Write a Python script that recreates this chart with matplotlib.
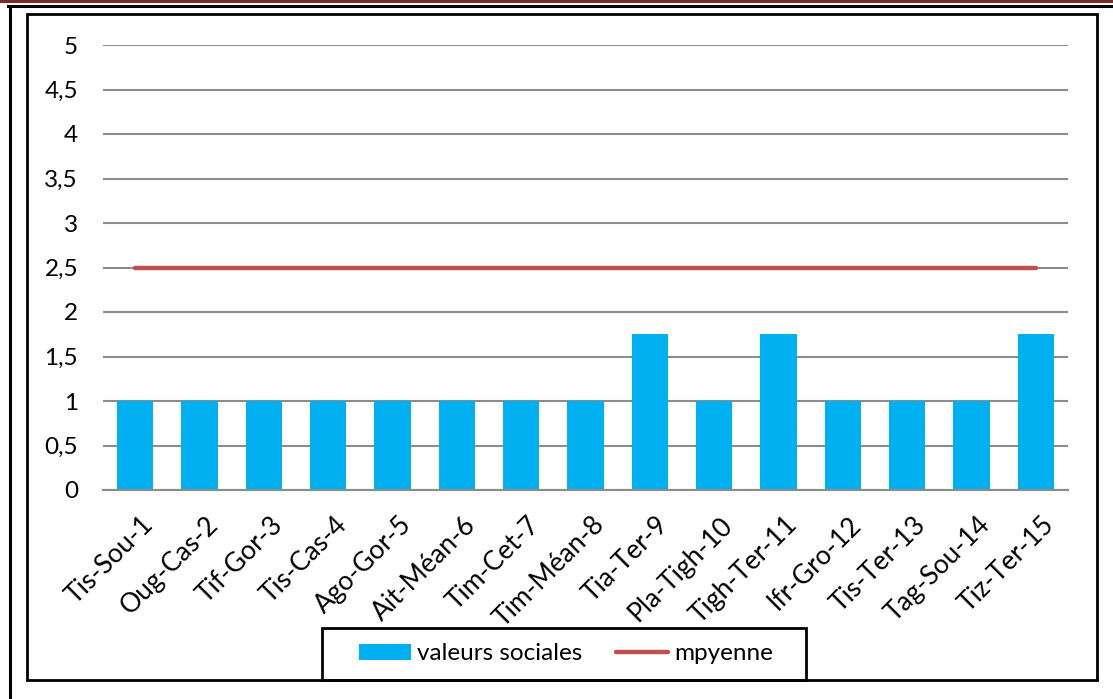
import matplotlib
matplotlib.use("Agg")
import matplotlib.pyplot as plt
import matplotlib.transforms as mtransforms
from matplotlib.lines import Line2D
from matplotlib.patches import Rectangle, Patch

# Data
sites = ["Tis-Sou-1", "Oug-Cas-2", "Tif-Gor-3", "Tis-Cas-4", "Ago-Gor-5",
         "Ait-Méan-6", "Tim-Cet-7", "Tim-Méan-8", "Tia-Ter-9", "Pla-Tigh-10",
         "Tigh-Ter-11", "Ifr-Gro-12", "Tis-Ter-13", "Tag-Sou-14", "Tiz-Ter-15"]
valeurs_sociales = [1, 1, 1, 1, 1, 1, 1, 1, 1.75, 1, 1.75, 1, 1, 1, 1.75]
moyenne = [2.5] * len(sites)
y_ticks = [0, 0.5, 1, 1.5, 2, 2.5, 3, 3.5, 4, 4.5, 5]
y_tick_labels = ["0", "0,5", "1", "1,5", "2", "2,5", "3", "3,5", "4", "4,5", "5"]

plt.rcParams["font.family"] = ["Lato", "DejaVu Sans"]
FS = 17.5
FS_X = 19
BLUE = "#00B0F0"
RED = "#C0504D"
GRID = "#8c8c8c"

W, H = 1113, 699
fig = plt.figure(figsize=(W / 100, H / 100), dpi=100)


def fx(px):
    return px / W


def fy(py):
    return 1 - py / H


# Page decorations: rule at the top, left margin line, chart border
fig.add_artist(Line2D([0, 1], [fy(1), fy(1)], color="#7b2a2a", lw=2.2, transform=fig.transFigure))
fig.add_artist(Line2D([fx(8), 1], [fy(5.5), fy(5.5)], color="black", lw=2.2, transform=fig.transFigure))
fig.add_artist(Line2D([fx(10), fx(10)], [fy(5.5), 0], color="black", lw=2.2, transform=fig.transFigure))
fig.add_artist(Rectangle((fx(26.5), fy(679.5)), fx(1097) - fx(26.5), fy(13.5) - fy(679.5),
                         transform=fig.transFigure, fill=False, edgecolor="black", lw=2.0))

ax = fig.add_axes([fx(103), fy(490), fx(1068) - fx(103), fy(45) - fy(490)])
x = list(range(len(sites)))
ax.bar(x, valeurs_sociales, width=0.56, color=BLUE, zorder=2, label="valeurs sociales")
ax.plot(x, moyenne, color=RED, lw=3.2, solid_capstyle="round", zorder=3, label="mpyenne")

ax.set_xlim(-0.5, len(sites) - 0.5)
ax.set_ylim(0, 5)
ax.set_yticks(y_ticks)
ax.set_yticklabels(y_tick_labels, fontsize=FS)
ax.yaxis.grid(True, color=GRID, lw=1.5, zorder=0)
ax.set_axisbelow(True)
for s in ["top", "right", "left"]:
    ax.spines[s].set_visible(False)
ax.spines["bottom"].set_color(GRID)
ax.spines["bottom"].set_linewidth(1.5)
ax.tick_params(axis="y", length=0, pad=18)
ax.set_xticks(x)
ax.set_xticklabels([])
ax.tick_params(axis="x", length=0)

# Category labels, rotated 45 degrees and ending just right of each bar centre
label_tf = ax.get_xaxis_transform() + mtransforms.ScaledTranslation(
    6 / 100, -22 / 100, fig.dpi_scale_trans)
for xi, name in zip(x, sites):
    ax.text(xi, 0, name, transform=label_tf, fontsize=FS_X, rotation=45,
            ha="right", va="top", rotation_mode="anchor", clip_on=False)

# Legend with a fixed frame beneath the plot
fig.add_artist(Rectangle((fx(322), fy(680)), fx(806) - fx(322), fy(628) - fy(680),
                         transform=fig.transFigure, fill=False, edgecolor="black", lw=2.0))
handles = [Patch(facecolor=BLUE, edgecolor="none"),
           Line2D([0], [0], color=RED, lw=3.2, solid_capstyle="round")]
fig.legend(handles, ["valeurs sociales", "mpyenne"], ncol=2,
           loc="center", bbox_to_anchor=(fx(566), fy(654)),
           fontsize=FS, frameon=False,
           handlelength=2.15, handleheight=0.6, handletextpad=0.25,
           columnspacing=1.4, borderpad=0, borderaxespad=0)

fig.savefig("out.png", dpi=100)
